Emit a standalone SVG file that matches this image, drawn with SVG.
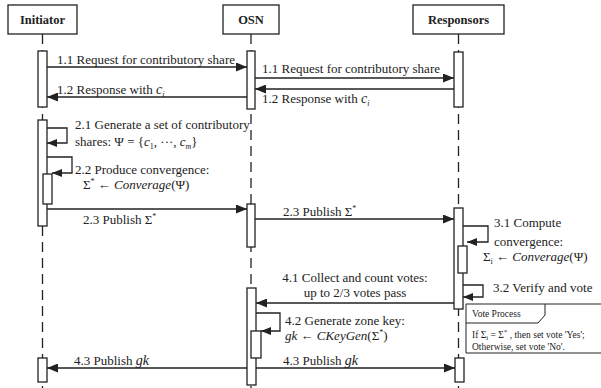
<svg xmlns="http://www.w3.org/2000/svg" width="601" height="388" viewBox="0 0 601 388">
<style>
text{font-family:"Liberation Serif","Times New Roman",serif;font-size:13px;fill:#222}
.hd{font-weight:bold;font-size:12.5px;text-anchor:middle}
.box{fill:#fff;stroke:#222;stroke-width:1.3}
.life{stroke:#222;stroke-width:1.3;stroke-dasharray:10 6;fill:none}
.act{fill:#fff;stroke:#222;stroke-width:1.3}
.msg{fill:none;stroke:#222;stroke-width:1.3;marker-end:url(#ah)}
.loop{fill:none;stroke:#222;stroke-width:1.3;marker-end:url(#ahs)}
.it{font-style:italic}
.sm{font-size:9.5px}
</style>
<defs>
<marker id="ah" markerUnits="userSpaceOnUse" markerWidth="11" markerHeight="9" refX="11" refY="4.5" orient="auto"><path d="M0,0 L11,4.5 L0,9 z" fill="#222"/></marker>
<marker id="ahs" markerUnits="userSpaceOnUse" markerWidth="10" markerHeight="8" refX="10" refY="4" orient="auto"><path d="M0,0 L10,4 L0,8 z" fill="#222"/></marker>
</defs>
<rect width="601" height="388" fill="#fff"/>
<g id="initiator">
<rect class="box" x="8" y="5" width="69" height="29"/>
<text class="hd" x="42.5" y="24">Initiator</text>
<line class="life" x1="42.5" y1="34" x2="42.5" y2="388"/>
<rect class="act" x="38" y="51" width="9" height="56"/>
<rect class="act" x="38" y="120" width="9" height="106"/>
<rect class="act" x="43" y="174" width="9" height="30"/>
<rect class="act" x="38" y="358" width="9" height="24"/>
</g>
<g id="osn">
<rect class="box" x="223" y="5" width="56" height="29"/>
<text class="hd" x="251" y="24">OSN</text>
<line class="life" x1="251" y1="34" x2="251" y2="388"/>
<rect class="act" x="247" y="51" width="8" height="58"/>
<rect class="act" x="247" y="204" width="8" height="43"/>
<rect class="act" x="247" y="288" width="9" height="97"/>
<rect class="act" x="251" y="331" width="10" height="27"/>
</g>
<g id="responsors">
<rect class="box" x="413" y="5" width="91" height="29"/>
<text class="hd" x="458.5" y="24">Responsors</text>
<line class="life" x1="458.5" y1="34" x2="458.5" y2="388"/>
<rect class="act" x="454" y="52" width="9" height="55"/>
<rect class="act" x="454" y="208" width="9" height="101"/>
<rect class="act" x="458" y="246" width="9" height="27"/>
<rect class="act" x="455" y="358" width="9" height="24"/>
</g>
<g id="vote-process">
<path d="M466,304 H601 M466,304 V353 H601" fill="none" stroke="#222" stroke-width="1"/>
<path d="M466,323 H538 L545,315 V304" fill="none" stroke="#222" stroke-width="1"/>
<text class="sm" x="472" y="317">Vote Process</text>
<text class="sm" x="472" y="338">If Σ<tspan font-size="7" dy="2">i</tspan><tspan dy="-2"> = Σ</tspan><tspan font-size="7" dy="-4">*</tspan><tspan dy="4">  , then set vote 'Yes';</tspan></text>
<text class="sm" x="472" y="350">Otherwise,  set vote 'No'.</text>
</g>
<g id="connectors">
<path class="msg" d="M47,67 H247"/>
<path class="msg" d="M255,78 H454"/>
<path class="msg" d="M454,89 H255"/>
<path class="msg" d="M247,97 H47"/>
<path class="loop" d="M47,128 H67 V143 H47"/>
<path class="loop" d="M47,157 H72 V173 H52"/>
<path class="msg" d="M47,209 H247"/>
<path class="msg" d="M255,219 H454"/>
<path class="loop" d="M463,226 H488 V242 H467"/>
<path class="loop" d="M463,285 H483 V297 H463"/>
<path class="msg" d="M454,303 H256"/>
<path class="loop" d="M256,313 H280 V331 H261"/>
<path class="msg" d="M247,368 H47"/>
<path class="msg" d="M256,368 H455"/>
</g>
<g id="labels">
<text x="57" y="64">1.1 Request for contributory share</text>
<text x="57" y="93.5">1.2 Response with  <tspan class="it" font-size="14">c</tspan><tspan class="it" font-size="8" dy="3">i</tspan></text>
<text x="262" y="73">1.1 Request for contributory share</text>
<text x="262" y="103">1.2 Response with <tspan class="it" font-size="14">c</tspan><tspan class="it" font-size="8" dy="3">i</tspan></text>
<text x="75" y="129">2.1 Generate a set of contributory</text>
<text x="75" y="146">shares: Ψ = {<tspan class="it">c</tspan><tspan font-size="8" dy="3">1</tspan><tspan dy="-3">, ···, </tspan><tspan class="it">c</tspan><tspan class="it" font-size="8" dy="3">m</tspan><tspan dy="-3">}</tspan></text>
<text x="75" y="174">2.2 Produce convergence:</text>
<text x="83" y="189">Σ<tspan font-size="8" dy="-5">*</tspan><tspan dy="5"> ← </tspan><tspan class="it">Converage</tspan>(Ψ)</text>
<text x="83" y="224">2.3 Publish  Σ<tspan font-size="8" dy="-5">*</tspan></text>
<text x="283" y="216">2.3 Publish  Σ<tspan font-size="8" dy="-5">*</tspan></text>
<text x="494" y="227">3.1 Compute</text>
<text x="494" y="246">convergence:</text>
<text x="483" y="261">Σ<tspan font-size="8" dy="3">i</tspan><tspan dy="-3"> ← </tspan><tspan class="it">Converage</tspan>(Ψ)</text>
<text x="493" y="292">3.2 Verify and vote</text>
<text x="355" y="282" text-anchor="middle">4.1 Collect and count votes:</text>
<text x="355" y="297" text-anchor="middle">up to 2/3 votes pass</text>
<text x="285" y="325">4.2 Generate zone key:</text>
<text x="285" y="340"><tspan class="it">gk</tspan> ← <tspan class="it">CKeyGen</tspan>(Σ<tspan font-size="8" dy="-5">*</tspan><tspan dy="5">)</tspan></text>
<text x="74" y="365">4.3 Publish  <tspan class="it" font-size="14">gk</tspan></text>
<text x="283" y="365">4.3 Publish  <tspan class="it" font-size="14">gk</tspan></text>
</g>
</svg>
